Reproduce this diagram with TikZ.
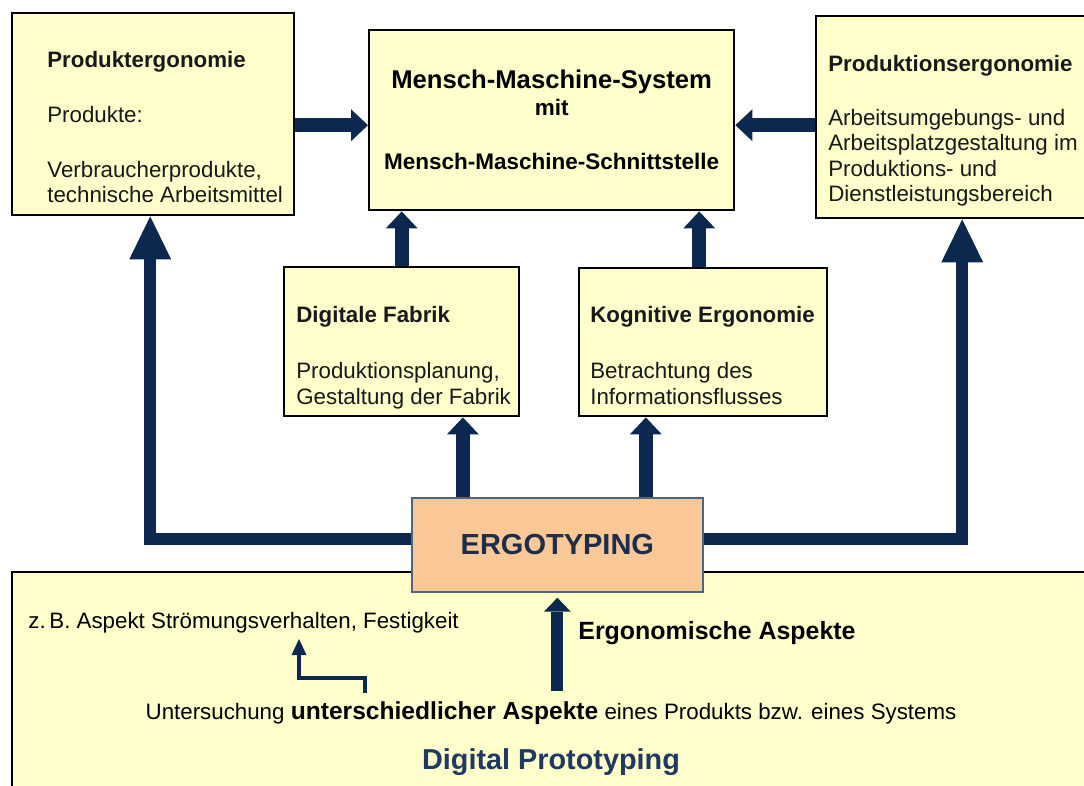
\documentclass[tikz,border=0pt]{standalone}
\usepackage{fontspec}
\setmainfont{Liberation Sans}
\usetikzlibrary{arrows.meta, positioning, calc}

\definecolor{navy}{HTML}{0C284E}
\definecolor{boxyellow}{HTML}{FFFFCC}
\definecolor{peach}{HTML}{FAC796}
\definecolor{ergoedge}{HTML}{4F647E}
\definecolor{ergotext}{HTML}{1C2E4A}
\definecolor{protoblue}{HTML}{1F3864}

\begin{document}
\begin{tikzpicture}[
  x=0.02cm, y=-0.02cm,
  font=\fontsize{12.7}{14.5}\selectfont,
  box/.style={
    draw=black,
    line width=1.4pt,
    fill=boxyellow,
    inner sep=0pt,
    anchor=north west
  },
  txt/.style={align=left, inner sep=0pt, anchor=north west, text=black!90},
  blockarrow/.style={draw=navy, line width=0.28cm,
    -{Triangle[width=0.64cm, length=0.34cm, line width=0pt]}},
  bigarrow/.style={draw=navy, line width=0.25cm, line join=miter,
    -{Triangle[width=0.84cm, length=0.86cm, line width=0pt]}},
  slimarrow/.style={draw=navy, line width=0.24cm,
    -{Triangle[width=0.54cm, length=0.28cm, line width=0pt]}},
  smallarrow/.style={draw=navy, line width=0.08cm, line join=miter,
    -{Triangle[width=0.3cm, length=0.32cm, line width=0pt]}}
]
\useasboundingbox (0,0) rectangle (1084,785);

% Kaesten oben
\node[box, minimum width=5.64cm, minimum height=4.04cm] (produkt) at (11,12) {};
\node[txt] (produkttext) at (47,51) {\bfseries Produktergonomie\\[16.8pt]
  Produkte:\\[16.8pt] Verbraucherprodukte,\\ technische Arbeitsmittel};

\node[box, minimum width=7.30cm, minimum height=3.60cm, align=center,
  font=\bfseries\fontsize{12.8}{15.4}\selectfont] (mms) at (368,29)
  {{\fontsize{14.6}{15.4}\selectfont Mensch-Maschine-System}\\ mit\\[15.3pt]
   Mensch-Maschine-Schnittstelle};

\node[box, minimum width=5.84cm, minimum height=4.04cm] (prodlon) at (815,15) {};
\node[txt] (prodlontext) at (828,55) {\bfseries Produktionsergonomie\\[16.2pt]
  Arbeitsumgebungs- und\\ Arbeitsplatzgestaltung im\\ Produktions- und\\
  Dienstleistungsbereich};

% Kaesten Mitte
\node[box, minimum width=4.70cm, minimum height=2.98cm] (digital) at (283,266) {};
\node[txt] (digitaltext) at (296,306) {\bfseries Digitale Fabrik\\[17.5pt]
  Produktionsplanung,\\ Gestaltung der Fabrik};

\node[box, minimum width=4.96cm, minimum height=2.96cm] (kogn) at (578,267) {};
\node[txt] (kogntext) at (590,306) {\bfseries Kognitive Ergonomie\\[17.5pt]
  Betrachtung des\\ Informationsflusses};

% Digital Prototyping
\node[box, minimum width=22cm, minimum height=4.8cm] (proto) at (11,571) {};

\node[fill=peach, draw=ergoedge, line width=1pt, minimum width=5.82cm,
  minimum height=1.88cm, anchor=north west, text=ergotext,
  font=\bfseries\fontsize{16.5}{18}\selectfont] (ergo) at (411,497) {ERGOTYPING};

\node[anchor=base west, inner sep=0pt] (zb) at (28,628)
  {z.\,B. Aspekt Strömungsverhalten, Festigkeit};
\node[anchor=base west, inner sep=0pt, font=\bfseries\fontsize{14.2}{16}\selectfont]
  (ergasp) at (578,639) {Ergonomische Aspekte};
\node[anchor=base, inner sep=0pt] (unters) at (551,719) {Untersuchung
  {\bfseries\fontsize{14}{16}\selectfont unterschiedlicher Aspekte}
  eines Produkts bzw. eines Systems};
\node[anchor=base, inner sep=0pt, text=protoblue,
  font=\bfseries\fontsize{16.4}{18}\selectfont] (digproto) at (551,769)
  {Digital Prototyping};

% Pfeile
\draw[blockarrow] ([yshift=-0.22cm]produkt.east) coordinate (pa) -- (pa -| mms.west);
\draw[blockarrow] ([yshift=-0.16cm]prodlon.west) coordinate (pb) -- (pb -| mms.east);
\draw[blockarrow] (digital.north) -- (digital.north |- mms.south);
\draw[blockarrow] ([xshift=-0.08cm]kogn.north) coordinate (kb) -- (kb |- mms.south);

\draw[blockarrow] ([xshift=-1.89cm]ergo.north) coordinate (ea) -- (ea |- digital.south);
\draw[blockarrow] ([xshift=1.77cm]ergo.north) coordinate (eb) -- (eb |- kogn.south);

\draw[bigarrow] ([yshift=0.12cm]ergo.west) -| ([xshift=-0.06cm]produkt.south);
\draw[bigarrow] ([yshift=0.12cm]ergo.east) -| (prodlon.south);

\coordinate (aspfoot) at ([yshift=-1.96cm]ergo.south);
\draw[slimarrow] (aspfoot) -- ([yshift=-0.1cm]ergo.south);

\coordinate (smfoot) at (365,693);
\coordinate (smtip) at (299,639);
\draw[smallarrow] (smfoot) -- ++(0,-15) -| (smtip);

\end{tikzpicture}
\end{document}
